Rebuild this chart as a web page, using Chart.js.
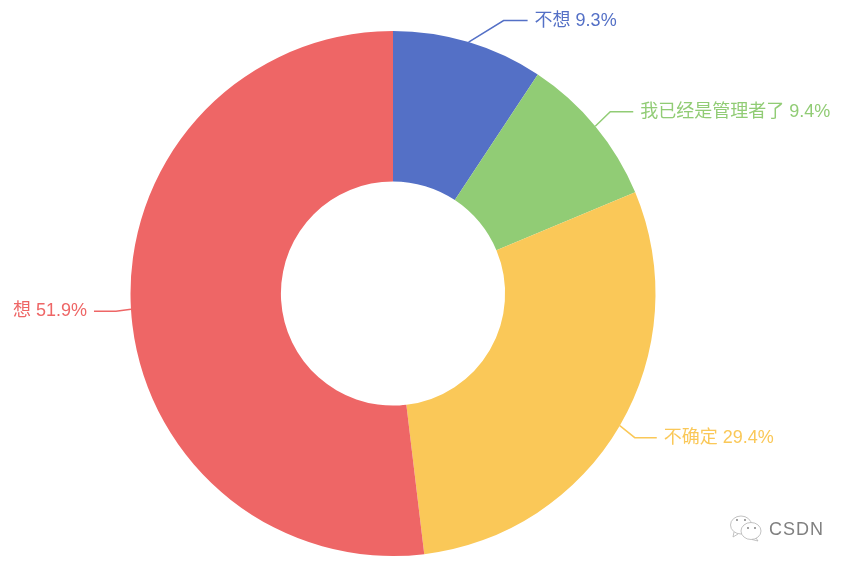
<!DOCTYPE html>
<html>
<head>
<meta charset="utf-8">
<style>
  html, body { margin: 0; padding: 0; background: #fff; }
  canvas { display: block; }
</style>
<script src="https://cdn.jsdelivr.net/npm/chart.js@4/dist/chart.umd.min.js"></script>
</head>
<body>
<canvas id="chart" width="850" height="565"></canvas>
<script>
// data
const categories = ["不想", "我已经是管理者了", "不确定", "想"];
const percents = [9.3, 9.4, 29.4, 51.9];
const colors = ["#5470c6", "#91cc75", "#fac858", "#ee6666"];

// leader line: bend offset from slice edge, then horizontal run
const leaderBend = [[35, -21.5], [15, -14.5], [15, 12], [-15, 2]];
const leaderRun = [24, 23, 22, 22];
const labelFont = '18px "Liberation Sans", "Noto Sans CJK SC", sans-serif';

// 標籤與引線
const leaderLabels = {
  id: "leaderLabels",
  afterDatasetsDraw(chart) {
    const ctx = chart.ctx;
    chart.getDatasetMeta(0).data.forEach((arc, i) => {
      const { x, y, startAngle, endAngle, outerRadius } = arc.getProps(["x", "y", "startAngle", "endAngle", "outerRadius"], true);
      const mid = (startAngle + endAngle) / 2;
      const x0 = x + Math.cos(mid) * outerRadius;
      const y0 = y + Math.sin(mid) * outerRadius;
      const x1 = x0 + leaderBend[i][0];
      const y1 = y0 + leaderBend[i][1];
      const dir = leaderBend[i][0] > 0 ? 1 : -1;
      const x2 = x1 + dir * leaderRun[i];

      ctx.save();
      ctx.strokeStyle = colors[i];
      ctx.lineWidth = 1.5;
      ctx.beginPath();
      ctx.moveTo(x0, y0);
      ctx.lineTo(x1, y1);
      ctx.lineTo(x2, y1);
      ctx.stroke();

      ctx.fillStyle = colors[i];
      ctx.font = labelFont;
      ctx.textBaseline = "middle";
      ctx.textAlign = dir > 0 ? "left" : "right";
      ctx.fillText(categories[i] + " " + percents[i] + "%", x2 + dir * 7, y1);
      ctx.restore();
    });
  },
};

// 右下角水印
const watermark = {
  id: "watermark",
  afterDraw(chart) {
    const ctx = chart.ctx;
    ctx.save();
    ctx.strokeStyle = "#b4b4b4";
    ctx.lineWidth = 0.8;
    ctx.fillStyle = "#fff";
    ctx.beginPath();
    ctx.ellipse(741, 525, 10.5, 9, 0, 0, Math.PI * 2);
    ctx.moveTo(734, 532);
    ctx.lineTo(733, 537);
    ctx.lineTo(738, 534);
    ctx.stroke();
    ctx.beginPath();
    ctx.ellipse(751, 531, 10, 8.5, 0, 0, Math.PI * 2);
    ctx.fill();
    ctx.stroke();
    ctx.beginPath();
    ctx.moveTo(756, 538);
    ctx.lineTo(758, 541);
    ctx.lineTo(752, 539.5);
    ctx.stroke();
    ctx.fillStyle = "#777";
    [[737, 520], [745, 520], [748, 528], [755, 528]].forEach(p => {
      ctx.beginPath();
      ctx.arc(p[0], p[1], 0.9, 0, Math.PI * 2);
      ctx.fill();
    });
    ctx.fillStyle = "#808080";
    ctx.font = '18px "Liberation Sans", "Noto Sans", sans-serif';
    ctx.letterSpacing = "1px";
    ctx.textBaseline = "middle";
    ctx.textAlign = "left";
    ctx.fillText("CSDN", 769, 530);
    ctx.restore();
  },
};

new Chart(document.getElementById("chart"), {
  type: "doughnut",
  data: {
    labels: categories,
    datasets: [{
      data: percents,
      backgroundColor: colors,
      borderWidth: 0,
    }],
  },
  options: {
    responsive: false,
    animation: false,
    cutout: "42.7%",
    layout: { padding: { left: 130.5, right: 194.5, top: 31, bottom: 9 } },
    plugins: {
      legend: { display: false },
      tooltip: { enabled: false },
    },
  },
  plugins: [leaderLabels, watermark],
});
</script>
</body>
</html>
